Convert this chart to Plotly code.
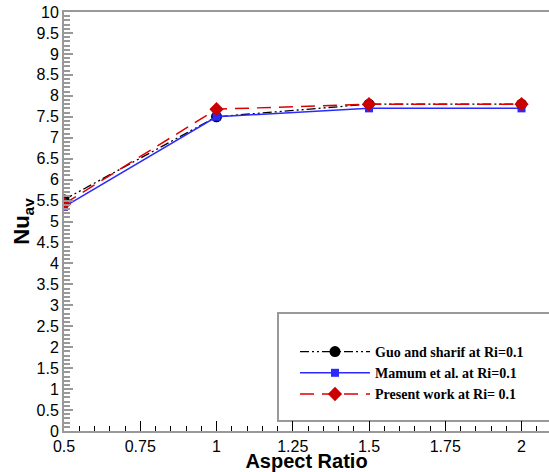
import plotly.graph_objects as go

aspect_ratio = [0.5, 1.0, 1.5, 2.0]
guo_sharif = [5.52, 7.5, 7.8, 7.8]
mamum = [5.35, 7.5, 7.7, 7.7]
present = [5.42, 7.68, 7.8, 7.8]

x_ticks = [0.5, 0.75, 1, 1.25, 1.5, 1.75, 2]
x_tick_text = ["0.5", "0.75", "1", "1.25", "1.5", "1.75", "2"]
y_ticks = [i * 0.5 for i in range(21)]
y_tick_text = ["0" if v == 0 else ("%g" % v) for v in y_ticks]

W, H = 549, 472
L, R, T, B = 64, 0, 12, 41

fig = go.Figure()
fig.add_trace(go.Scatter(
    x=aspect_ratio, y=guo_sharif, mode="lines+markers",
    name="Guo and sharif at Ri=0.1",
    line=dict(color="black", width=1.3, dash="9px,3px,2px,3px,2px,3px"),
    marker=dict(symbol="circle", size=11, color="black"),
))
fig.add_trace(go.Scatter(
    x=aspect_ratio, y=mamum, mode="lines+markers",
    name="Mamum et al. at Ri=0.1",
    line=dict(color="#2a2aff", width=1.5),
    marker=dict(symbol="square", size=8, color="#2a2aff"),
))
fig.add_trace(go.Scatter(
    x=aspect_ratio, y=present, mode="lines+markers",
    name="Present work at Ri= 0.1",
    line=dict(color="#dd0000", width=1.5, dash="14px,8px"),
    marker=dict(symbol="diamond", size=11, color="#cc0000"),
))

pw = W - L - R
ph = H - T - B
def px(x):
    return (x - L) / pw
def py(y):
    return (H - B - y) / ph

# legend box
fig.add_shape(type="rect", xref="paper", yref="paper",
              x0=px(278), x1=px(560), y0=py(421), y1=py(313),
              line=dict(color="#999999", width=2), fillcolor="white", layer="below")

fig.update_layout(
    width=W, height=H,
    margin=dict(l=L, r=R, t=T, b=B, autoexpand=False),
    plot_bgcolor="white", paper_bgcolor="white",
    font=dict(family="Liberation Sans, Arial", color="black"),
    showlegend=True,
    legend=dict(
        x=px(295), y=py(336), xanchor="left", yanchor="top",
        bgcolor="rgba(0,0,0,0)", borderwidth=0,
        font=dict(family="Liberation Serif, Times New Roman", size=14, color="black", weight="bold"),
        itemwidth=70, tracegroupgap=0,
    ),
    xaxis=dict(
        range=[0.5, 0.5 + (W - L) / 305.0], showgrid=False, zeroline=False,
        automargin=False,
        showline=True, linecolor="#999999", linewidth=2, mirror=True,
        tickmode="array", tickvals=x_ticks, ticktext=x_tick_text,
        ticks="inside", ticklen=10, tickcolor="black", tickwidth=1,
        minor=dict(dtick=0.05, tick0=0.5, ticks="inside", ticklen=5, tickcolor="black", tickwidth=1),
        tickfont=dict(size=16, family="Liberation Sans, Arial"),
        title=dict(text="<b>Aspect Ratio</b>", font=dict(size=20), standoff=0),
    ),
    yaxis=dict(
        range=[0, 10], showgrid=False, zeroline=False,
        automargin=False,
        showline=True, linecolor="#999999", linewidth=2, mirror=False,
        tickmode="array", tickvals=y_ticks, ticktext=y_tick_text,
        ticks="inside", ticklen=9, tickcolor="#999999", tickwidth=1.5,
        minor=dict(dtick=0.1, tick0=0, ticks="inside", ticklen=6, tickcolor="#999999", tickwidth=1.5),
        tickfont=dict(size=16, family="Liberation Sans, Arial"),
        title=dict(text="<b>Nu<sub>av</sub></b>", font=dict(size=22), standoff=0),
    ),
)

fig.write_html("out.html", config={"displayModeBar": False},
               post_script="document.body.style.margin='0px';document.body.style.padding='0px';")
